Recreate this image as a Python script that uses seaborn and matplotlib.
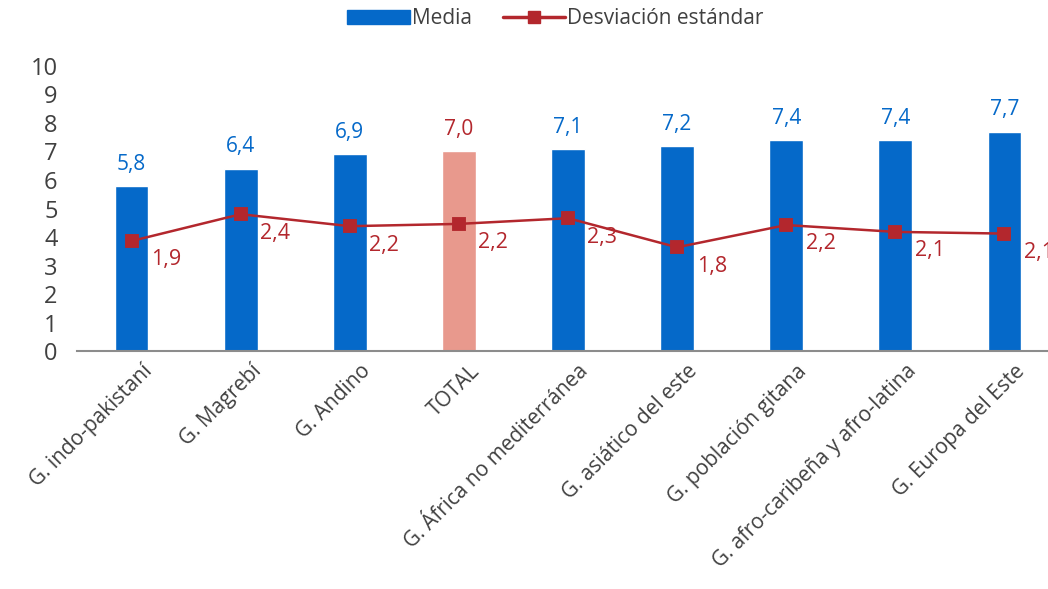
import matplotlib
matplotlib.use("Agg")
import matplotlib.pyplot as plt
import matplotlib.transforms as mtrans
from matplotlib.lines import Line2D
from matplotlib.patches import Patch
import seaborn as sns
import pandas as pd

categorias = ["G. indo-pakistaní", "G. Magrebí", "G. Andino", "TOTAL",
              "G. África no mediterránea", "G. asiático del este",
              "G. población gitana", "G. afro-caribeña y afro-latina",
              "G. Europa del Este"]
media = [5.8, 6.4, 6.9, 7.0, 7.1, 7.2, 7.4, 7.4, 7.7]
desviacion = [1.93, 2.40, 2.19, 2.23, 2.33, 1.82, 2.21, 2.09, 2.06]

AZUL = "#0569C9"
SALMON = "#E8998D"
ROJO = "#B3272D"
GRIS = "#404040"

df = pd.DataFrame({"cat": categorias, "media": media, "sd": desviacion})
colores = [SALMON if c == "TOTAL" else AZUL for c in categorias]

sns.set_style("white")
plt.rcParams["font.family"] = ["Open Sans", "DejaVu Sans"]

fig = plt.figure(figsize=(10.48, 5.89), dpi=100)
ax = fig.add_axes([0.0735, 0.404, 0.937, 0.484])

sns.barplot(data=df, x="cat", y="media", hue="cat", palette=colores,
            legend=False, width=0.31, saturation=1, ax=ax)

ax2 = ax.twinx()
sns.pointplot(data=df, x="cat", y="sd", color=ROJO, markers="s",
              markersize=9, linewidth=1.8, ax=ax2)

for a in (ax, ax2):
    a.set_xlim(-0.5, len(categorias) - 0.5)
ax.set_ylim(0, 10)
ax2.set_ylim(0, 5)
ax2.axis("off")

# etiquetas de valores
for i, (m, s) in enumerate(zip(media, desviacion)):
    col = ROJO if categorias[i] == "TOTAL" else AZUL
    ax.annotate(f"{m:.1f}".replace(".", ","), (i, m), xytext=(0, 8),
                textcoords="offset points", ha="center", va="bottom",
                fontsize=15, color=col, clip_on=False)
    ax2.annotate(f"{s:.1f}".replace(".", ","), (i, s), xytext=(14, -6),
                 textcoords="offset points", ha="left", va="top",
                 fontsize=15.5, color=ROJO, annotation_clip=False)

ax.set_xlabel("")
ax.set_ylabel("")
ax.set_yticks(range(0, 11))
ax.tick_params(axis="y", length=0, labelsize=17, labelcolor=GRIS, pad=14)
ax.set_xticks(range(len(categorias)))
ax.set_xticklabels(categorias, rotation=45, ha="right",
                   rotation_mode="anchor", fontsize=15, color=GRIS)
ax.tick_params(axis="x", which="major", length=0, pad=7)
desplaz = mtrans.ScaledTranslation(0.10, 0, fig.dpi_scale_trans)
for lab in ax.get_xticklabels():
    lab.set_transform(lab.get_transform() + desplaz)
ax.set_xticks([i - 0.5 for i in range(len(categorias) + 1)], minor=True)
ax.tick_params(axis="x", which="minor", length=6, width=1.2,
               color="#8C8C8C", direction="out")

for sp in ["top", "right", "left"]:
    ax.spines[sp].set_visible(False)
ax.spines["bottom"].set_color("#8C8C8C")
ax.spines["bottom"].set_linewidth(1.5)

handles = [Patch(color=AZUL),
           Line2D([], [], color=ROJO, marker="s", markersize=9, linewidth=2.5)]
fig.legend(handles, ["Media", "Desviación estándar"], loc="center",
           bbox_to_anchor=(0.53, 0.968), ncol=2, frameon=False, fontsize=15,
           labelcolor=GRIS, handlelength=3, handletextpad=0.1,
           columnspacing=1.5)

fig.savefig("out.png", dpi=100)
